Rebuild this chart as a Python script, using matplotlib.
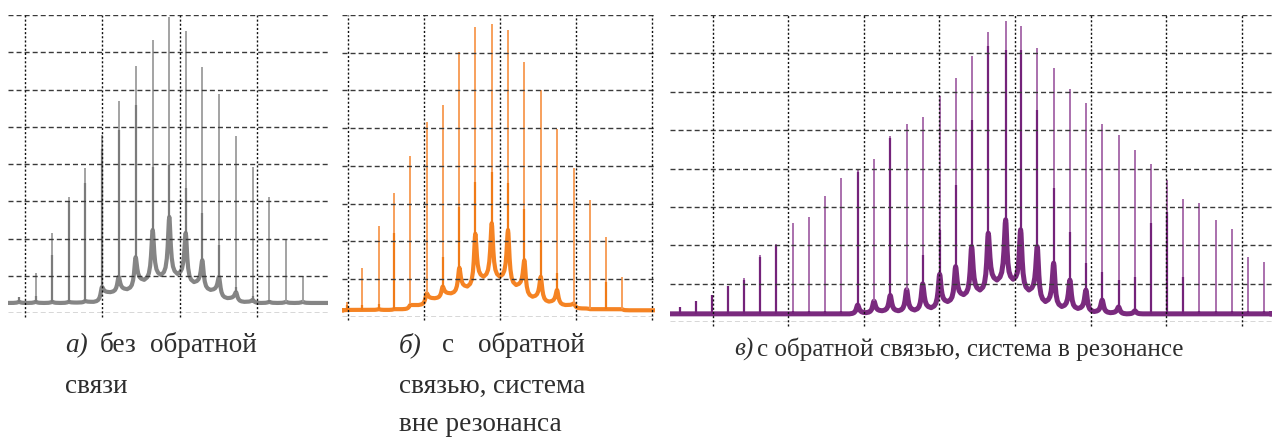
import matplotlib
matplotlib.use('Agg')
import matplotlib.pyplot as plt

# ---------------- data (grid-division units) ----------------
# Panel a: without feedback (gray)
a_x = [-0.077, 0.138, 0.352, 0.564, 0.778, 0.994, 1.209, 1.428, 1.648, 1.862,
       2.074, 2.288, 2.503, 2.723, 2.938, 3.152, 3.368, 3.583]
a_tip = [0.43, 1.07, 2.15, 3.11, 3.89, 4.78, 5.69, 6.63, 7.33, 7.95,
         7.57, 6.60, 5.88, 4.75, 3.92, 3.11, 1.99, 0.99]
a_mid = [0.43, 0.45, 1.56, 3.00, 3.50, 4.40, 4.91, 5.58, 3.92, 3.97,
         3.36, 2.68, 1.83, 0.70, 0.45, 0.35, 0.30, 0.30]
a_foot = [0.30, 0.30, 0.30, 0.30, 0.32, 0.70, 0.97, 1.50, 2.23, 2.58,
          2.15, 1.42, 0.97, 0.56, 0.35, 0.30, 0.30, 0.30]
a_valley = [0.27, 0.27, 0.27, 0.28, 0.30, 0.56, 0.64, 0.89, 1.02, 1.05,
            0.83, 0.62, 0.40, 0.30, 0.27, 0.27, 0.27]
a_base = 0.27

# Panel b: feedback, off resonance (orange)
b_x = [-0.021, 0.184, 0.400, 0.605, 0.816, 1.032, 1.242, 1.461, 1.671, 1.887,
       2.101, 2.316, 2.532, 2.746, 2.966, 3.180, 3.395, 3.597]
b_tip = [0.40, 1.28, 2.41, 3.29, 4.26, 5.15, 5.62, 7.01, 7.69, 7.76,
         7.60, 6.76, 6.00, 4.97, 3.94, 3.10, 2.12, 1.06]
b_mid = [0.30, 0.30, 0.35, 2.21, 0.35, 0.62, 1.59, 2.92, 3.58, 3.85,
         3.55, 2.86, 2.03, 1.16, 0.35, 0.20, 0.93, 0.20]
b_foot = [0.18, 0.18, 0.20, 0.20, 0.31, 0.62, 0.80, 1.30, 2.20, 2.48,
          2.30, 1.50, 1.06, 0.71, 0.35, 0.20, 0.20, 0.20]
b_valley = [0.18, 0.18, 0.18, 0.20, 0.31, 0.49, 0.62, 0.80, 1.06, 1.06,
            0.84, 0.53, 0.40, 0.31, 0.22, 0.20, 0.20]
b_base = 0.17

# Panel c: feedback, in resonance (purple)
c_x = [-0.433, -0.221, -0.010, 0.206, 0.418, 0.630, 0.841, 1.058, 1.274, 1.489,
       1.701, 1.918, 2.134, 2.349, 2.566, 2.778, 3.003, 3.214, 3.426, 3.646,
       3.876, 4.074, 4.294, 4.511, 4.726, 4.938, 5.153, 5.370, 5.586, 5.798,
       6.005, 6.226, 6.437, 6.653, 6.865, 7.081, 7.296]
c_tip = [0.40, 0.55, 0.71, 0.95, 1.15, 1.75, 2.04, 2.59, 2.75, 3.29,
         3.75, 3.99, 4.24, 4.86, 5.16, 5.35, 5.88, 6.35, 6.92, 7.57,
         7.85, 7.72, 7.14, 6.61, 6.07, 5.70, 5.16, 4.88, 4.49, 4.12,
         3.71, 3.20, 3.10, 2.66, 2.42, 1.71, 1.58]
c_mid = [0.40, 0.55, 0.71, 0.95, 1.10, 1.70, 2.00, 0.30, 0.30, 0.30,
         0.30, 3.90, 0.50, 4.80, 0.60, 1.75, 2.40, 3.58, 5.27, 7.20,
         7.10, 7.10, 5.52, 3.50, 2.36, 1.54, 1.32, 1.10, 1.19, 2.58,
         2.88, 1.19, 0.30, 0.30, 0.30, 0.30, 0.30]
c_foot = [0.22, 0.22, 0.22, 0.22, 0.22, 0.22, 0.22, 0.22, 0.22, 0.22,
          0.22, 0.45, 0.55, 0.70, 0.85, 1.00, 1.25, 1.45, 1.97, 2.32,
          2.67, 2.41, 1.97, 1.54, 1.10, 0.84, 0.58, 0.40, 0.30, 0.22,
          0.22, 0.22, 0.22, 0.22, 0.22, 0.22, 0.22]
c_valley = [0.22, 0.22, 0.22, 0.22, 0.22, 0.22, 0.22, 0.22, 0.22, 0.22,
            0.22, 0.25, 0.30, 0.30, 0.32, 0.38, 0.54, 0.72, 0.84, 1.10,
            1.12, 0.84, 0.54, 0.41, 0.36, 0.28, 0.25, 0.22, 0.22, 0.22,
            0.22, 0.22, 0.22, 0.22, 0.22, 0.22]
c_base = 0.22

# ---------------- figure ----------------
W, H = 1272, 437
fig = plt.figure(figsize=(W / 100, H / 100), dpi=100)


def rect(x0, y0, x1, y1):
    return [x0 / W, 1 - y1 / H, (x1 - x0) / W, (y1 - y0) / H]


# cusp shape of the broad line foot (fraction of half gap, relative height)
PROFILE_T = [0.0, 0.05, 0.10, 0.20, 0.30, 0.45, 0.65, 1.0]
PROFILE_W = [1.0, 0.94, 0.79, 0.48, 0.28, 0.13, 0.05, 0.0]


def build_trace(xs, feet, valleys, base, x_lo, x_hi):
    px, py = [x_lo], [base]
    n = len(xs)
    for i in range(n):
        lv = base if i == 0 else valleys[i - 1]
        hl = (xs[i] - xs[i - 1]) / 2 if i > 0 else (xs[1] - xs[0]) / 2
        for t, w in zip(PROFILE_T[::-1], PROFILE_W[::-1]):
            px.append(xs[i] - t * hl)
            py.append(lv + (feet[i] - lv) * w)
        rv = base if i == n - 1 else valleys[i]
        hr = (xs[i + 1] - xs[i]) / 2 if i < n - 1 else (xs[i] - xs[i - 1]) / 2
        for t, w in zip(PROFILE_T[1:], PROFILE_W[1:]):
            px.append(xs[i] + t * hr)
            py.append(rv + (feet[i] - rv) * w)
    px.append(x_hi)
    py.append(base)
    return px, py


def panel(box, xlim, ngrid_v, xs, tips, mids, feet, valleys, base,
          c_trace, c_light, c_dark, lw_trace):
    ax = fig.add_axes(rect(*box))
    ax.set_xlim(*xlim)
    ax.set_ylim(0, 8)
    ax.axis('off')
    px, py = build_trace(xs, feet, valleys, base, xlim[0], xlim[1])
    ax.plot(px, py, color=c_trace, lw=lw_trace, solid_joinstyle='round',
            zorder=2)
    ax.vlines(xs, feet, tips, color=c_light, lw=1.3, zorder=2.2)
    hi = [max(m, f) for m, f in zip(mids, feet)]
    ax.vlines(xs, feet, hi, color=c_dark, lw=1.6, zorder=2.3)
    for k in range(9):
        ax.axhline(k, color='#3a3a3a', lw=1.0, ls=(0, (3.6, 2.2)), zorder=3)
    for k in range(ngrid_v):
        ax.plot([k, k], [-0.1, 8], color='#111111', lw=1.0,
                ls=(0, (1.5, 1.5)), zorder=3, clip_on=False)
    return ax


panel((8, 15, 328, 313), (-0.219, 3.91), 4, a_x, a_tip, a_mid, a_foot,
      a_valley, a_base, '#858585', '#9c9c9c', '#7b7b7b', 3.0)
panel((342, 15, 655, 316.7), (-0.083, 4.035), 5, b_x, b_tip, b_mid, b_foot,
      b_valley, b_base, '#f58323', '#f7994f', '#f07b18', 3.0)
panel((670, 15, 1272, 322.3), (-0.565, 7.4), 8, c_x, c_tip, c_mid, c_foot,
      c_valley, c_base, '#7a2a7e', '#a465a7', '#74237a', 3.6)

# ---------------- captions ----------------
FONT = 'Liberation Serif'
TXT = '#2e2e2e'
renderer = fig.canvas.get_renderer()


def fit_size(s, target, style='normal'):
    t = fig.text(0, 0, s, fontsize=20, family=FONT, style=style)
    w = t.get_window_extent(renderer).width
    t.remove()
    return 20 * target / w


fs = fit_size('обратной', 107)
fs_c = fit_size('с обратной связью, система в резонансе', 426)


def put(s, x, y, size, style='normal', ha='left'):
    fig.text(x / W, 1 - y / H, s, fontsize=size, family=FONT, style=style,
             color=TXT, ha=ha, va='baseline')


put('а)', 65, 352, fs, 'italic')
put('без', 100, 352, fs)
put('обратной', 257, 352, fs, ha='right')
put('связи', 65, 393, fs)

put('б)', 399, 352, fs, 'italic')
put('с', 442, 352, fs)
put('обратной', 585, 352, fs, ha='right')
put('связью,', 399, 393, fs)
put('система', 585, 393, fs, ha='right')
put('вне резонанса', 399, 431, fs)

put('в)', 734, 356, fs_c, 'italic')
put('с обратной связью, система в резонансе', 757, 356, fs_c)

fig.savefig('out.png', dpi=100)
